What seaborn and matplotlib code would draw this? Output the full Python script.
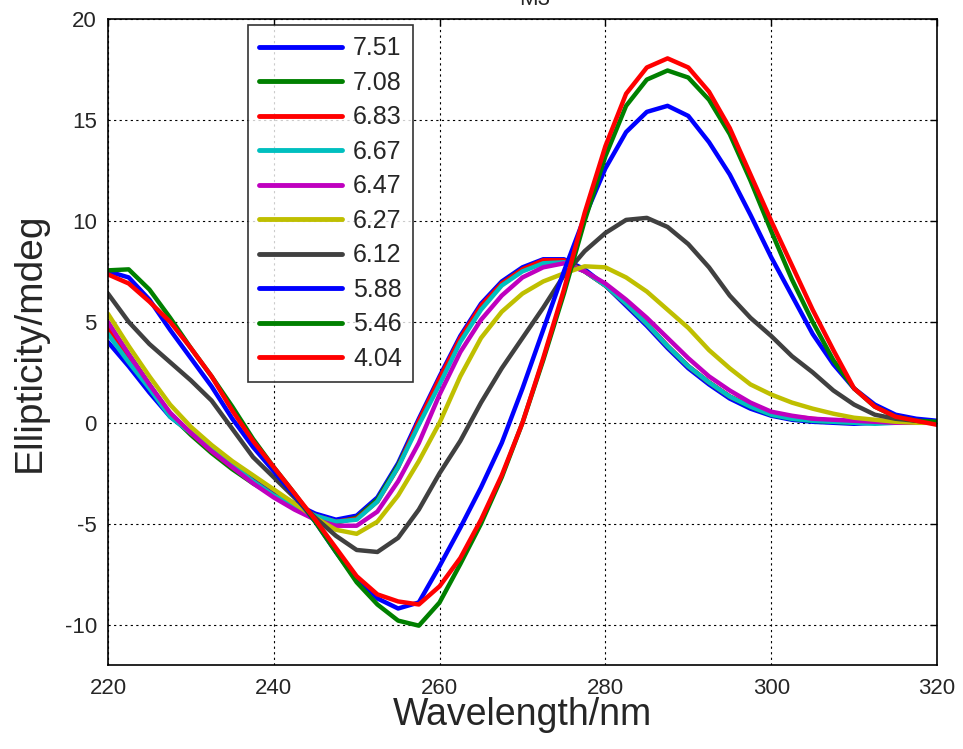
import numpy as np
import pandas as pd
import matplotlib
matplotlib.use("Agg")
import matplotlib.pyplot as plt
import seaborn as sns

wavelength = [220, 222.5, 225, 227.5, 230, 232.5, 235, 237.5, 240, 242.5, 245, 247.5,
              250, 252.5, 255, 257.5, 260, 262.5, 265, 267.5, 270, 272.5, 275, 277.5,
              280, 282.5, 285, 287.5, 290, 292.5, 295, 297.5, 300, 302.5, 305, 307.5,
              310, 312.5, 315, 317.5, 320]

ph_7_51 = [4.0, 2.8, 1.5, 0.3, -0.5, -1.3, -2.0, -2.7, -3.4, -4.0, -4.5, -4.8,
           -4.6, -3.7, -2.0, 0.2, 2.3, 4.3, 5.9, 7.0, 7.7, 8.1, 8.1, 7.6,
           6.8, 5.8, 4.8, 3.7, 2.7, 1.9, 1.2, 0.7, 0.35, 0.15, 0.05, 0.0,
           -0.05, 0.0, 0.0, 0.0, 0.0]
ph_7_08 = [4.9, 3.4, 1.9, 0.4, -0.6, -1.5, -2.3, -3.0, -3.6, -4.1, -4.6, -4.95,
           -4.7, -3.8, -2.1, 0.0, 2.1, 4.1, 5.7, 6.9, 7.6, 8.0, 8.0, 7.5,
           6.8, 5.9, 4.9, 3.8, 2.8, 2.0, 1.3, 0.8, 0.4, 0.2, 0.1, 0.05,
           0.0, 0.0, 0.0, 0.0, 0.0]
ph_6_83 = [4.7, 3.2, 1.8, 0.4, -0.5, -1.4, -2.2, -2.9, -3.6, -4.1, -4.6, -4.9,
           -4.75, -3.9, -2.2, 0.1, 2.2, 4.2, 5.8, 6.9, 7.6, 8.05, 8.05, 7.5,
           6.8, 5.9, 4.9, 3.8, 2.8, 2.0, 1.3, 0.85, 0.5, 0.3, 0.2, 0.1,
           0.05, 0.0, 0.0, 0.0, 0.0]
ph_6_67 = [4.4, 3.0, 1.7, 0.3, -0.5, -1.3, -2.1, -2.9, -3.6, -4.1, -4.6, -4.9,
           -4.8, -3.9, -2.2, -0.1, 1.9, 4.0, 5.6, 6.8, 7.5, 7.9, 7.95, 7.5,
           6.8, 5.9, 4.9, 3.8, 2.8, 2.0, 1.3, 0.8, 0.4, 0.2, 0.1, 0.05,
           0.0, -0.05, 0.0, 0.0, 0.0]
ph_6_47 = [5.0, 3.4, 1.9, 0.5, -0.5, -1.4, -2.2, -3.0, -3.7, -4.3, -4.8, -5.1,
           -5.1, -4.4, -2.9, -1.0, 1.4, 3.5, 5.1, 6.3, 7.2, 7.7, 7.9, 7.5,
           6.9, 6.1, 5.2, 4.2, 3.2, 2.3, 1.6, 1.0, 0.55, 0.35, 0.2, 0.15,
           0.1, 0.05, 0.0, 0.0, 0.0]
ph_6_27 = [5.4, 3.8, 2.3, 0.9, -0.2, -1.1, -1.9, -2.6, -3.3, -4.0, -4.7, -5.3,
           -5.5, -4.9, -3.6, -1.9, 0.0, 2.3, 4.2, 5.5, 6.4, 7.0, 7.4, 7.75,
           7.7, 7.2, 6.5, 5.6, 4.7, 3.6, 2.7, 1.9, 1.4, 1.0, 0.7, 0.45,
           0.25, 0.15, 0.05, 0.0, 0.0]
ph_6_12 = [6.4, 5.0, 3.9, 3.0, 2.1, 1.1, -0.3, -1.7, -2.7, -3.7, -4.7, -5.6,
           -6.3, -6.4, -5.7, -4.3, -2.5, -0.9, 1.0, 2.7, 4.2, 5.7, 7.3, 8.5,
           9.4, 10.05, 10.15, 9.7, 8.85, 7.7, 6.3, 5.2, 4.3, 3.3, 2.5, 1.6,
           0.9, 0.4, 0.2, 0.1, 0.0]
ph_5_88 = [7.5, 7.2, 6.1, 4.6, 3.2, 1.8, 0.2, -1.2, -2.4, -3.6, -4.9, -6.4,
           -7.8, -8.7, -9.2, -8.9, -7.1, -5.2, -3.2, -1.0, 1.7, 4.6, 7.5, 10.2,
           12.6, 14.4, 15.4, 15.7, 15.2, 13.9, 12.3, 10.3, 8.2, 6.3, 4.4, 2.9,
           1.7, 0.9, 0.4, 0.2, 0.1]
ph_5_46 = [7.55, 7.6, 6.6, 5.2, 3.7, 2.3, 0.8, -0.8, -2.2, -3.5, -4.9, -6.4,
           -7.9, -9.0, -9.8, -10.05, -8.9, -7.0, -5.0, -2.7, 0.0, 3.1, 6.4, 10.0,
           13.2, 15.7, 17.0, 17.45, 17.1, 16.0, 14.3, 12.0, 9.5, 7.1, 5.0, 3.1,
           1.7, 0.8, 0.3, 0.1, 0.05]
ph_4_04 = [7.35, 6.9, 6.0, 5.0, 3.7, 2.3, 0.6, -0.9, -2.2, -3.5, -4.8, -6.2,
           -7.6, -8.5, -8.85, -9.0, -8.1, -6.7, -4.8, -2.6, 0.0, 3.2, 6.6, 10.4,
           13.7, 16.3, 17.6, 18.05, 17.6, 16.4, 14.6, 12.3, 10.0, 7.8, 5.6, 3.6,
           1.7, 0.8, 0.3, 0.1, -0.1]

series_labels = ["7.51", "7.08", "6.83", "6.67", "6.47", "6.27", "6.12", "5.88", "5.46", "4.04"]
series_values = [ph_7_51, ph_7_08, ph_6_83, ph_6_67, ph_6_47, ph_6_27, ph_6_12, ph_5_88, ph_5_46, ph_4_04]
series_colors = ["#0000ff", "#008000", "#ff0000", "#00bfbf", "#bf00bf",
                 "#bfbf00", "#404040", "#0000ff", "#008000", "#ff0000"]

x_ticks = [220, 240, 260, 280, 300, 320]
y_ticks = [-10, -5, 0, 5, 10, 15, 20]

frames = []
for lab, vals in zip(series_labels, series_values):
    frames.append(pd.DataFrame({"Wavelength": wavelength, "Ellipticity": vals, "pH": lab}))
df = pd.concat(frames, ignore_index=True)

sns.set_style("white")
plt.rcParams["font.family"] = ["Liberation Sans", "DejaVu Sans"]

fig = plt.figure(figsize=(9.63, 7.49), dpi=100)
ax = fig.add_axes([0.1121, 0.1121, 0.973 - 0.1121, 0.9746 - 0.1121])

palette = dict(zip(series_labels, series_colors))
sns.lineplot(data=df, x="Wavelength", y="Ellipticity", hue="pH", hue_order=series_labels,
             palette=palette, linewidth=3.2, ax=ax, sort=False, estimator=None)

ax.set_xlim(220, 320)
ax.set_ylim(-12, 20)
ax.set_xticks(x_ticks)
ax.set_yticks(y_ticks)
ax.set_xticklabels([str(t) for t in x_ticks], fontsize=16)
ax.set_yticklabels([str(t) for t in y_ticks], fontsize=16)
ax.tick_params(axis="both", direction="in", length=5, color="black", width=1,
               top=True, right=True)
ax.tick_params(axis="x", pad=9)
ax.tick_params(axis="y", pad=8)
ax.grid(True, color="black", linestyle=(0, (2, 3)), linewidth=0.8)
for s in ax.spines.values():
    s.set_color("black")
    s.set_linewidth(1.2)
ax.set_xlabel("Wavelength/nm", fontsize=27, labelpad=-1)
ax.set_ylabel("Ellipticity/mdeg", fontsize=28, labelpad=12)

leg = ax.legend(loc="upper left", bbox_to_anchor=(0.169, 0.9907), fontsize=18,
                frameon=True, fancybox=False, edgecolor="black", handlelength=3.3,
                handletextpad=0.45, labelspacing=0.42, borderpad=0.45, borderaxespad=0)
leg.get_frame().set_linewidth(1.2)
for line in leg.get_lines():
    line.set_linewidth(3.5)

fig.text(0.555, 1 - 5 / 749, "M3", fontsize=16, ha="center", va="baseline")

fig.savefig("out.png", dpi=100, facecolor="white")
